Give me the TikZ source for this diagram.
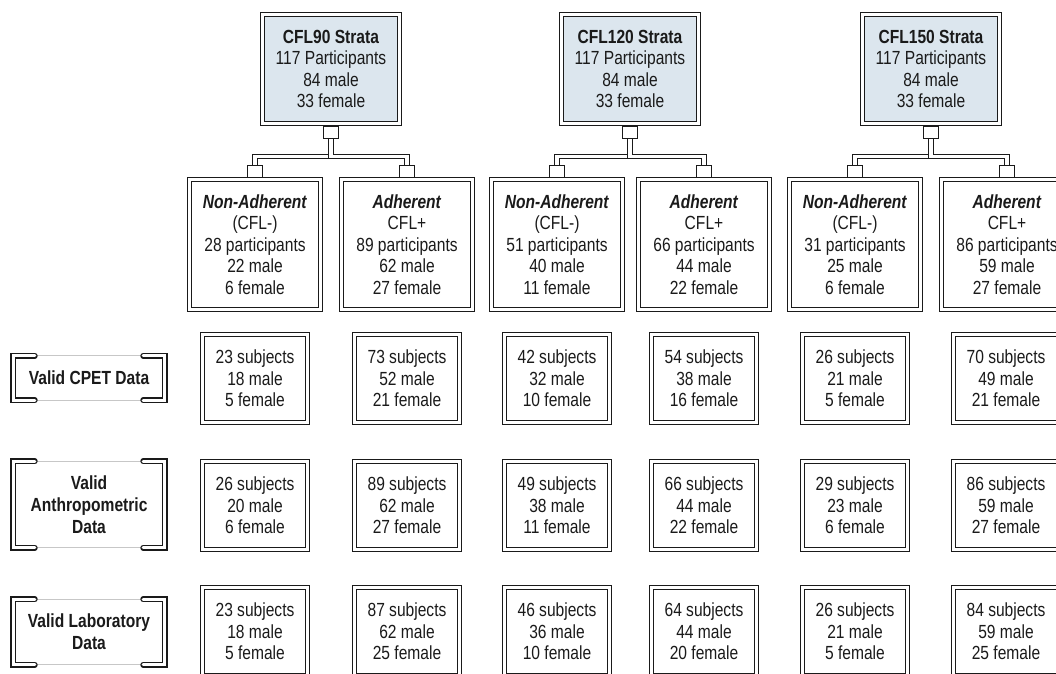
\documentclass[tikz,border=0pt]{standalone}
\usepackage{fontspec}
\setmainfont{Liberation Sans}[FakeStretch=0.82]
\definecolor{topfill}{HTML}{DCE6EE}
\definecolor{ink}{HTML}{1A1A1A}
\pgfdeclarelayer{bg}
\pgfsetlayers{bg,main}
\newcommand\subjtxt[3]{#1 subjects\\#2 male\\#3 female}
\newcommand\grptxt[5]{\textbf{\textit{#1}}\\#2\\#3 participants\\#4 male\\#5 female}
\newcommand\toptxt[1]{\textbf{#1 Strata}\\117 Participants\\84 male\\33 female}
\begin{document}
\begin{tikzpicture}[x=1pt,y=-1pt,
  txt/.style={font=\fontsize{19}{21.5}\selectfont, text=ink, align=center},
  dblbox/.style={txt, draw=ink, double=white, double distance=3.4pt, line width=1.2pt, inner sep=0pt},
  topbox/.style={dblbox, fill=topfill, minimum width=137pt, minimum height=109pt},
  subbox/.style={dblbox, minimum width=131pt, minimum height=130pt},
  rowbox/.style={dblbox, minimum width=105pt, minimum height=88pt},
  sq/.style={draw=ink, fill=white, line width=1pt, minimum width=15pt, minimum height=12pt, inner sep=0pt},
  dblline/.style={draw=ink, double=white, double distance=3.4pt, line width=1.2pt},
  dblbr/.style={draw=ink, double=white, double distance=3.2pt, line width=1.3pt, line cap=round},
  lbl/.style={txt, font=\fontsize{19}{22}\selectfont\bfseries, minimum width=151pt, inner sep=0pt},
  thin/.style={draw=black!22, line width=0.8pt}
]
\useasboundingbox (0,0) rectangle (1056,673);

% top strata boxes
\node[topbox] (t1) at (331,69) {\toptxt{CFL90}};
\node[topbox] (t2) at (630,69) {\toptxt{CFL120}};
\node[topbox] (t3) at (931,69) {\toptxt{CFL150}};

% group boxes
\node[subbox] (s1) at (255,244.5)  {\grptxt{Non-Adherent}{(CFL-)}{28}{22}{6}};
\node[subbox] (s2) at (407,244.5)  {\grptxt{Adherent}{CFL+}{89}{62}{27}};
\node[subbox] (s3) at (557,244.5)  {\grptxt{Non-Adherent}{(CFL-)}{51}{40}{11}};
\node[subbox] (s4) at (704,244.5)  {\grptxt{Adherent}{CFL+}{66}{44}{22}};
\node[subbox] (s5) at (855,244.5)  {\grptxt{Non-Adherent}{(CFL-)}{31}{25}{6}};
\node[subbox] (s6) at (1007,244.5) {\grptxt{Adherent}{CFL+}{86}{59}{27}};

% connector squares
\node[sq] (qt1) at (331,132) {};
\node[sq] (qt2) at (630,132) {};
\node[sq] (qt3) at (931,132) {};
\foreach \i/\x in {1/255,2/407,3/557,4/704,5/855,6/1007}
  \node[sq] (qs\i) at (\x,171.5) {};

\coordinate (hy) at (0,156.5);
\begin{pgfonlayer}{bg}
  \foreach \t/\a/\b in {1/1/2,2/3/4,3/5/6}{
    \draw[dblline] (qt\t.south) -- (qt\t.south |- hy) -| (qs\a.north);
    \draw[dblline] (qt\t.south) -- (qt\t.south |- hy) -| (qs\b.north);
  }
\end{pgfonlayer}

% data rows
\foreach \i/\x/\a/\b/\c in {1/255/23/18/5,2/407/73/52/21,3/557/42/32/10,4/704/54/38/16,5/855/26/21/5,6/1006/70/49/21}
  \node[rowbox] (ra\i) at (\x,378.5) {\subjtxt{\a}{\b}{\c}};
\foreach \i/\x/\a/\b/\c in {1/255/26/20/6,2/407/89/62/27,3/557/49/38/11,4/704/66/44/22,5/855/29/23/6,6/1006/86/59/27}
  \node[rowbox] (rb\i) at (\x,505.5) {\subjtxt{\a}{\b}{\c}};
\foreach \i/\x/\a/\b/\c in {1/255/23/18/5,2/407/87/62/25,3/557/46/36/10,4/704/64/44/20,5/855/26/21/5,6/1006/84/59/25}
  \node[rowbox] (rc\i) at (\x,631.5) {\subjtxt{\a}{\b}{\c}};

% row labels
\node[lbl, minimum height=44pt] (L1) at (89,378) {Valid CPET Data};
\node[lbl, minimum height=86pt] (L2) at (89,504.5) {Valid\\Anthropometric\\Data};
\node[lbl, minimum height=65pt] (L3) at (89,632) {Valid Laboratory\\Data};
\foreach \L in {L1,L2,L3}{
  \draw[thin] ([xshift=21.5pt]\L.north west) -- ([xshift=-21.5pt]\L.north east);
  \draw[thin] ([xshift=21.5pt]\L.south west) -- ([xshift=-21.5pt]\L.south east);
  \draw[dblbr] ([xshift=21.5pt]\L.north west) -- (\L.north west) -- (\L.south west) -- ([xshift=21.5pt]\L.south west);
  \draw[dblbr] ([xshift=-21.5pt]\L.north east) -- (\L.north east) -- (\L.south east) -- ([xshift=-21.5pt]\L.south east);
}
\end{tikzpicture}
\end{document}
